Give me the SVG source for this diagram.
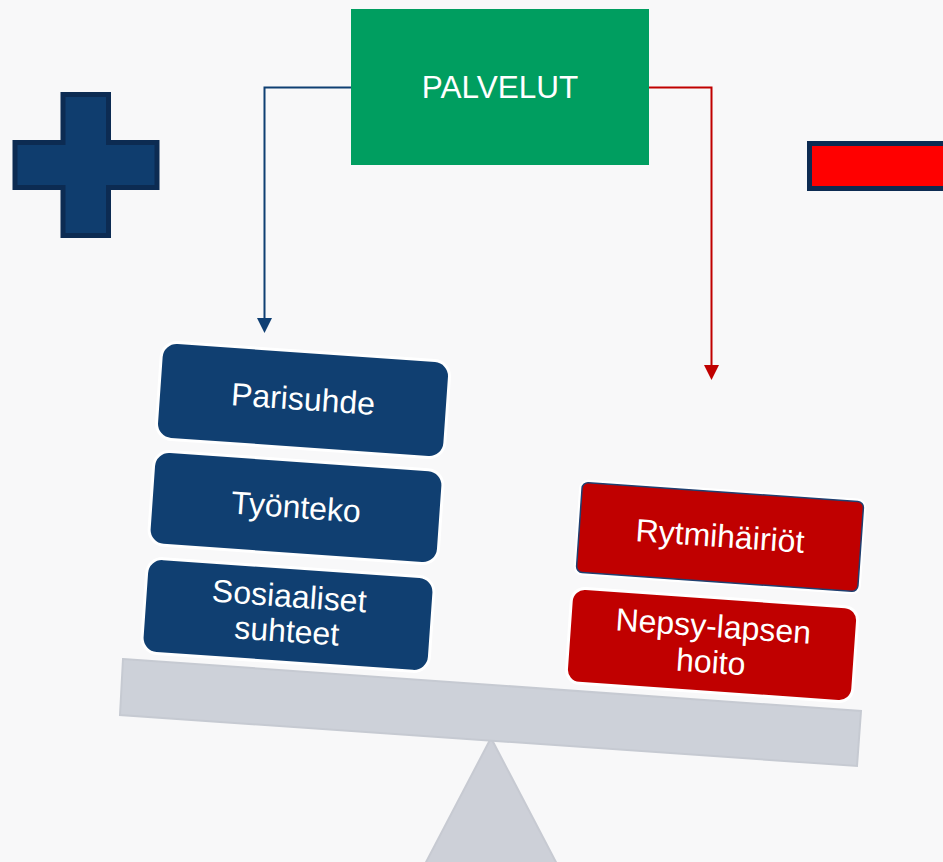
<svg xmlns="http://www.w3.org/2000/svg" width="943" height="862" viewBox="0 0 943 862">
<style>
.t{font-family:"Liberation Sans",Arial,sans-serif;font-size:32px;fill:#ffffff;text-anchor:middle}
.glow{fill:#ffffff}
.blue{fill:#103f71}
.red{fill:#c00000}
.conn{fill:none;stroke-width:2}
</style>
<rect x="0" y="0" width="943" height="862" fill="#f8f8f9"/>
<g id="plus">
<polygon points="63,94.5 108.5,94.5 108.5,142.5 157,142.5 157,187.5 108.5,187.5 108.5,235.5 63,235.5 63,187.5 15,187.5 15,142.5 63,142.5" fill="#0f3d6e" stroke="#0c2b52" stroke-width="5"/>
</g>
<g id="minus">
<rect x="809.5" y="143.5" width="150" height="45" fill="#ff0000" stroke="#0c2b52" stroke-width="5"/>
</g>
<g id="fulcrum">
<polygon points="491,738 424,866 558,866" fill="#cdd0d8" stroke="#c7cad2" stroke-width="2"/>
</g>
<g id="beam">
<polygon points="123,659 861,711 857,766 120,715" fill="#cdd1d9" stroke="#c6cad2" stroke-width="2"/>
</g>
<g id="connectors">
<polyline class="conn" points="351,87.5 264.5,87.5 264.5,319" stroke="#0f3f73"/>
<polygon points="257,318 272,318 264.5,333" fill="#0f3f73"/>
<polyline class="conn" points="649,87.5 711.5,87.5 711.5,366" stroke="#c00000"/>
<polygon points="704,365 719,365 711.5,380" fill="#c00000"/>
</g>
<g id="palvelut">
<rect x="351" y="9" width="298" height="156" fill="#009e60"/>
<text class="t" x="500" y="97.5" style="font-size:31.5px">PALVELUT</text>
</g>
<g id="parisuhde" transform="rotate(4 303 400)">
<rect class="glow" x="157" y="350" width="292" height="100" rx="17"/>
<rect class="blue" x="160" y="353" width="286" height="94" rx="14"/>
<text class="t" x="303" y="410">Parisuhde</text>
</g>
<g id="tyonteko" transform="rotate(4 296 507.5)">
<rect class="glow" x="149.5" y="459" width="293" height="97" rx="17"/>
<rect class="blue" x="152.5" y="462" width="287" height="91" rx="14"/>
<text class="t" x="296" y="518">Työnteko</text>
</g>
<g id="sosiaaliset" transform="rotate(4 288 615)">
<rect class="glow" x="142.5" y="566" width="291" height="98" rx="17"/>
<rect class="blue" x="145.5" y="569" width="285" height="92" rx="14"/>
<text class="t" x="288" y="607">Sosiaaliset</text>
<text class="t" x="288" y="642">suhteet</text>
</g>
<g id="rytmihairiot" transform="rotate(4 720 537)">
<rect class="glow" x="576" y="489" width="288" height="96" rx="9"/>
<rect class="red" x="579" y="492" width="282" height="90" rx="6" stroke="#1f3f70" stroke-width="1.5"/>
<text class="t" x="720" y="547">Rytmihäiriöt</text>
</g>
<g id="nepsy" transform="rotate(4 712 645)">
<rect class="glow" x="567" y="596" width="290" height="98" rx="15"/>
<rect class="red" x="570" y="599" width="284" height="92" rx="12"/>
<text class="t" x="712" y="637">Nepsy-lapsen</text>
<text class="t" x="712" y="673">hoito</text>
</g>
</svg>
